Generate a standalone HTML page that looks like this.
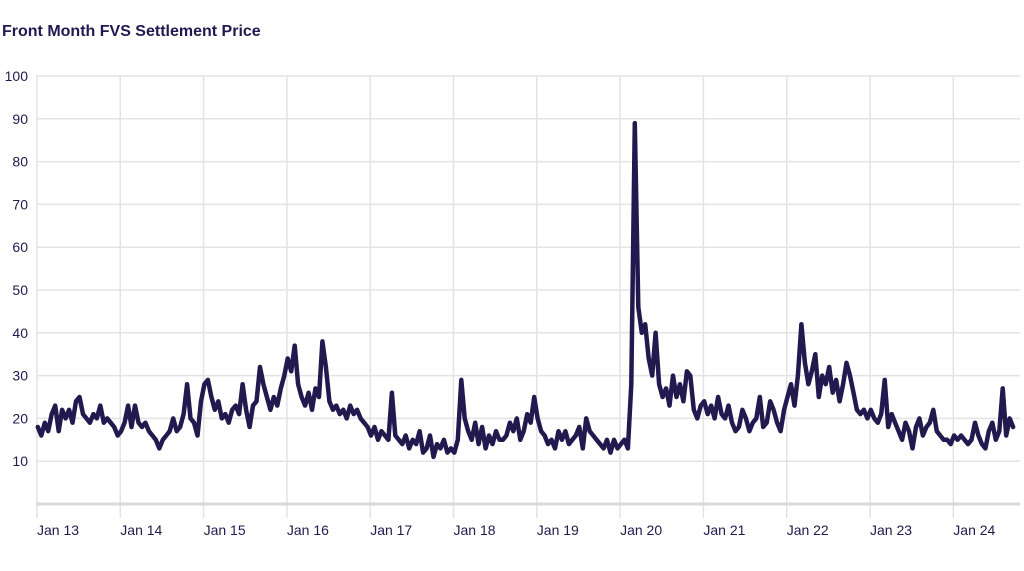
<!DOCTYPE html>
<html><head><meta charset="utf-8"><style>
body{margin:0;background:#fff;width:1024px;height:566px;overflow:hidden;font-family:"Liberation Sans",sans-serif}
</style></head><body>
<svg width="1024" height="566">
<text x="2" y="36" font-size="16" font-weight="bold" fill="#1f1a4f">Front Month FVS Settlement Price</text>
<g id="grid"></g><g id="axes"></g><g id="series"></g>
</svg>
<script>
const years=["Jan 13","Jan 14","Jan 15","Jan 16","Jan 17","Jan 18","Jan 19","Jan 20","Jan 21","Jan 22","Jan 23","Jan 24"];
const yTicks=[10,20,30,40,50,60,70,80,90,100];
const startYear=2013;
const y2013=[18,16,19,17,21,23,17,22,20,22,19,24,25,21,20,19,21,20,23,19,20,19,18,16];
const y2014=[17,19,23,18,23,19,18,19,17,16,15,13,15,16,17,20,17,18,21,28,20,19,16,24];
const y2015=[28,29,25,22,24,20,21,19,22,23,21,28,22,18,23,24,32,28,25,22,25,23,27,30];
const y2016=[34,31,37,28,25,23,26,22,27,25,38,32,24,22,23,21,22,20,23,21,22,20,19,18];
const y2017=[16,18,15,17,16,15,26,16,15,14,16,13,15,14,17,12,13,16,11,14,13,15,12,13];
const y2018=[12,15,29,20,17,15,19,14,18,13,16,14,17,15,15,16,19,17,20,15,17,21,19,25];
const y2019=[20,17,16,14,15,13,17,15,17,14,15,16,18,13,20,17,16,15,14,13,15,12,15,13];
const y2020=[14,15,13,28,89,46,40,42,34,30,40,28,25,27,23,30,25,28,24,31,30,22,20,23];
const y2021=[24,21,23,20,25,21,20,23,19,17,18,22,20,17,19,20,25,18,19,24,22,19,17,22];
const y2022=[25,28,23,30,42,33,28,31,35,25,30,28,32,26,29,24,28,33,30,26,22,21,22,20];
const y2023=[22,20,19,21,29,18,21,19,17,15,19,17,13,18,20,16,18,19,22,17,16,15,15,14];
const y2024=[16,15,16,15,14,15,19,16,14,13,17,19,15,17,27,16,20,18];
const values=[].concat(y2013,y2014,y2015,y2016,y2017,y2018,y2019,y2020,y2021,y2022,y2023,y2024);

const NS="http://www.w3.org/2000/svg";
const X=t=>37+(t-startYear)*83.3;
const Y=v=>504-v*4.28;
const grid=document.getElementById('grid'),axes=document.getElementById('axes'),series=document.getElementById('series');
function mk(tag,attrs,parent){const e=document.createElementNS(NS,tag);for(const k in attrs)e.setAttribute(k,attrs[k]);parent.appendChild(e);return e;}
yTicks.forEach(v=>{
  const l=mk('line',{x1:36,x2:1020,y1:Y(v),y2:Y(v),stroke:'#e3e3e3','stroke-width':1.5},grid);
  
  
  const t=mk('text',{x:28,y:Y(v)+5,'text-anchor':'end','font-size':14,fill:'#1f1a4f'},axes);
  t.textContent=v;
  
  
});
years.forEach((s,i)=>{
  const x=X(startYear+i);
  const l=mk('line',{x1:x,x2:x,y1:76,y2:518,stroke:'#e3e3e3','stroke-width':1.5},grid);
  
  
  const t=mk('text',{x:x,y:535,'font-size':14,fill:'#1f1a4f'},axes);
  t.textContent=s;
  
  
});
const base=mk('line',{x1:36,x2:1020,y1:504,y2:504,stroke:'#d9d9d9','stroke-width':3},grid);


const pts=values.map((v,i)=>X(startYear+0.01+i/24).toFixed(1)+','+Y(v).toFixed(1)).join(' ');
const pl=mk('polyline',{points:pts,fill:'none',stroke:'#221a4f','stroke-width':4.5,'stroke-linejoin':'round','stroke-linecap':'round'},series);


</script>
</body></html>
